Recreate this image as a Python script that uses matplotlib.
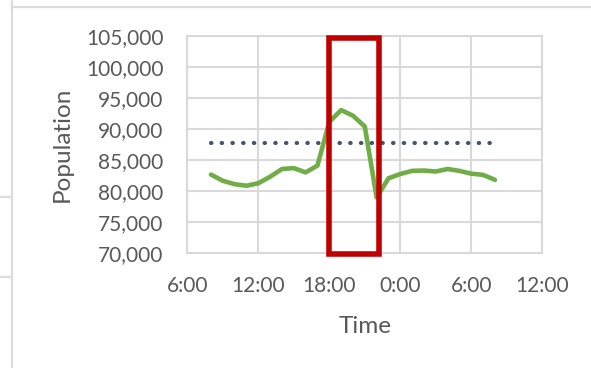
import matplotlib
matplotlib.use("Agg")
import matplotlib.pyplot as plt
from matplotlib.patches import Rectangle
from matplotlib.ticker import FuncFormatter

# hours since midnight of day 1 (24+ = next day)
hours = [8, 9, 10, 11, 12, 13, 14, 15, 16, 17, 18, 19, 20, 21, 22, 23,
         24, 25, 26, 27, 28, 29, 30, 31, 32]
population = [82600, 81600, 81050, 80800, 81200, 82250, 83500, 83650, 82950,
              84050, 91100, 93000, 92100, 90350, 78900, 82000,
              82700, 83200, 83250, 83100, 83500, 83200, 82750, 82550, 81750]
mean_level = 87650

xticks = [6, 12, 18, 24, 30, 36]
xlabels = ["6:00", "12:00", "18:00", "0:00", "6:00", "12:00"]
yticks = list(range(70000, 105001, 5000))

highlight_start, highlight_end = 18.0, 22.2

plt.rcParams['font.family'] = ['Lato', 'DejaVu Sans']
txt = '#595959'
grid = '#d9d9d9'

fig = plt.figure(figsize=(5.91, 3.68), dpi=100)
ax = fig.add_axes([0.3169, 0.3133, 0.6007, 0.5897])

ax.plot(hours, population, color='#70ad47', lw=3.3, solid_joinstyle='round',
        solid_capstyle='round', zorder=3)
ax.plot([hours[0], hours[-1]], [mean_level, mean_level], color='#44546a',
        lw=3.0, linestyle=(0, (0.1, 2.47)), dash_capstyle='round', zorder=3)

ax.set_xlim(6, 36)
ax.set_ylim(70000, 105000)
ax.set_xticks(xticks)
ax.set_xticklabels(xlabels)
ax.set_yticks(yticks)
ax.yaxis.set_major_formatter(FuncFormatter(lambda v, p: f"{int(v):,}"))
ax.tick_params(length=0, labelsize=15, colors=txt, pad=17)
ax.tick_params(axis='x', pad=17)
ax.grid(True, color=grid, lw=1.5)
ax.set_axisbelow(True)
for s in ax.spines.values():
    s.set_color(grid)
    s.set_linewidth(1.5)

ax.set_xlabel("Time", fontsize=17.5, color=txt, labelpad=14)
ax.set_ylabel("Population", fontsize=17.5, color=txt, labelpad=10)

# red highlight box
ax.add_patch(Rectangle((highlight_start, 69800), highlight_end - highlight_start,
                       104650 - 69800, fill=False, edgecolor='#c00000', lw=4,
                       clip_on=False, zorder=5))

# spreadsheet cell borders around the chart
fig.add_artist(plt.Line2D([12 / 591, 12 / 591], [0, 1], color='#dcdcdc', lw=1.6))
fig.add_artist(plt.Line2D([12 / 591, 1], [1 - 6.5 / 368] * 2, color='#dcdcdc', lw=1.6))
fig.add_artist(plt.Line2D([0, 12 / 591], [1 - 197 / 368] * 2, color='#dcdcdc', lw=1.6))
fig.add_artist(plt.Line2D([0, 12 / 591], [1 - 277 / 368] * 2, color='#dcdcdc', lw=1.6))

fig.savefig("out.png", dpi=100)
